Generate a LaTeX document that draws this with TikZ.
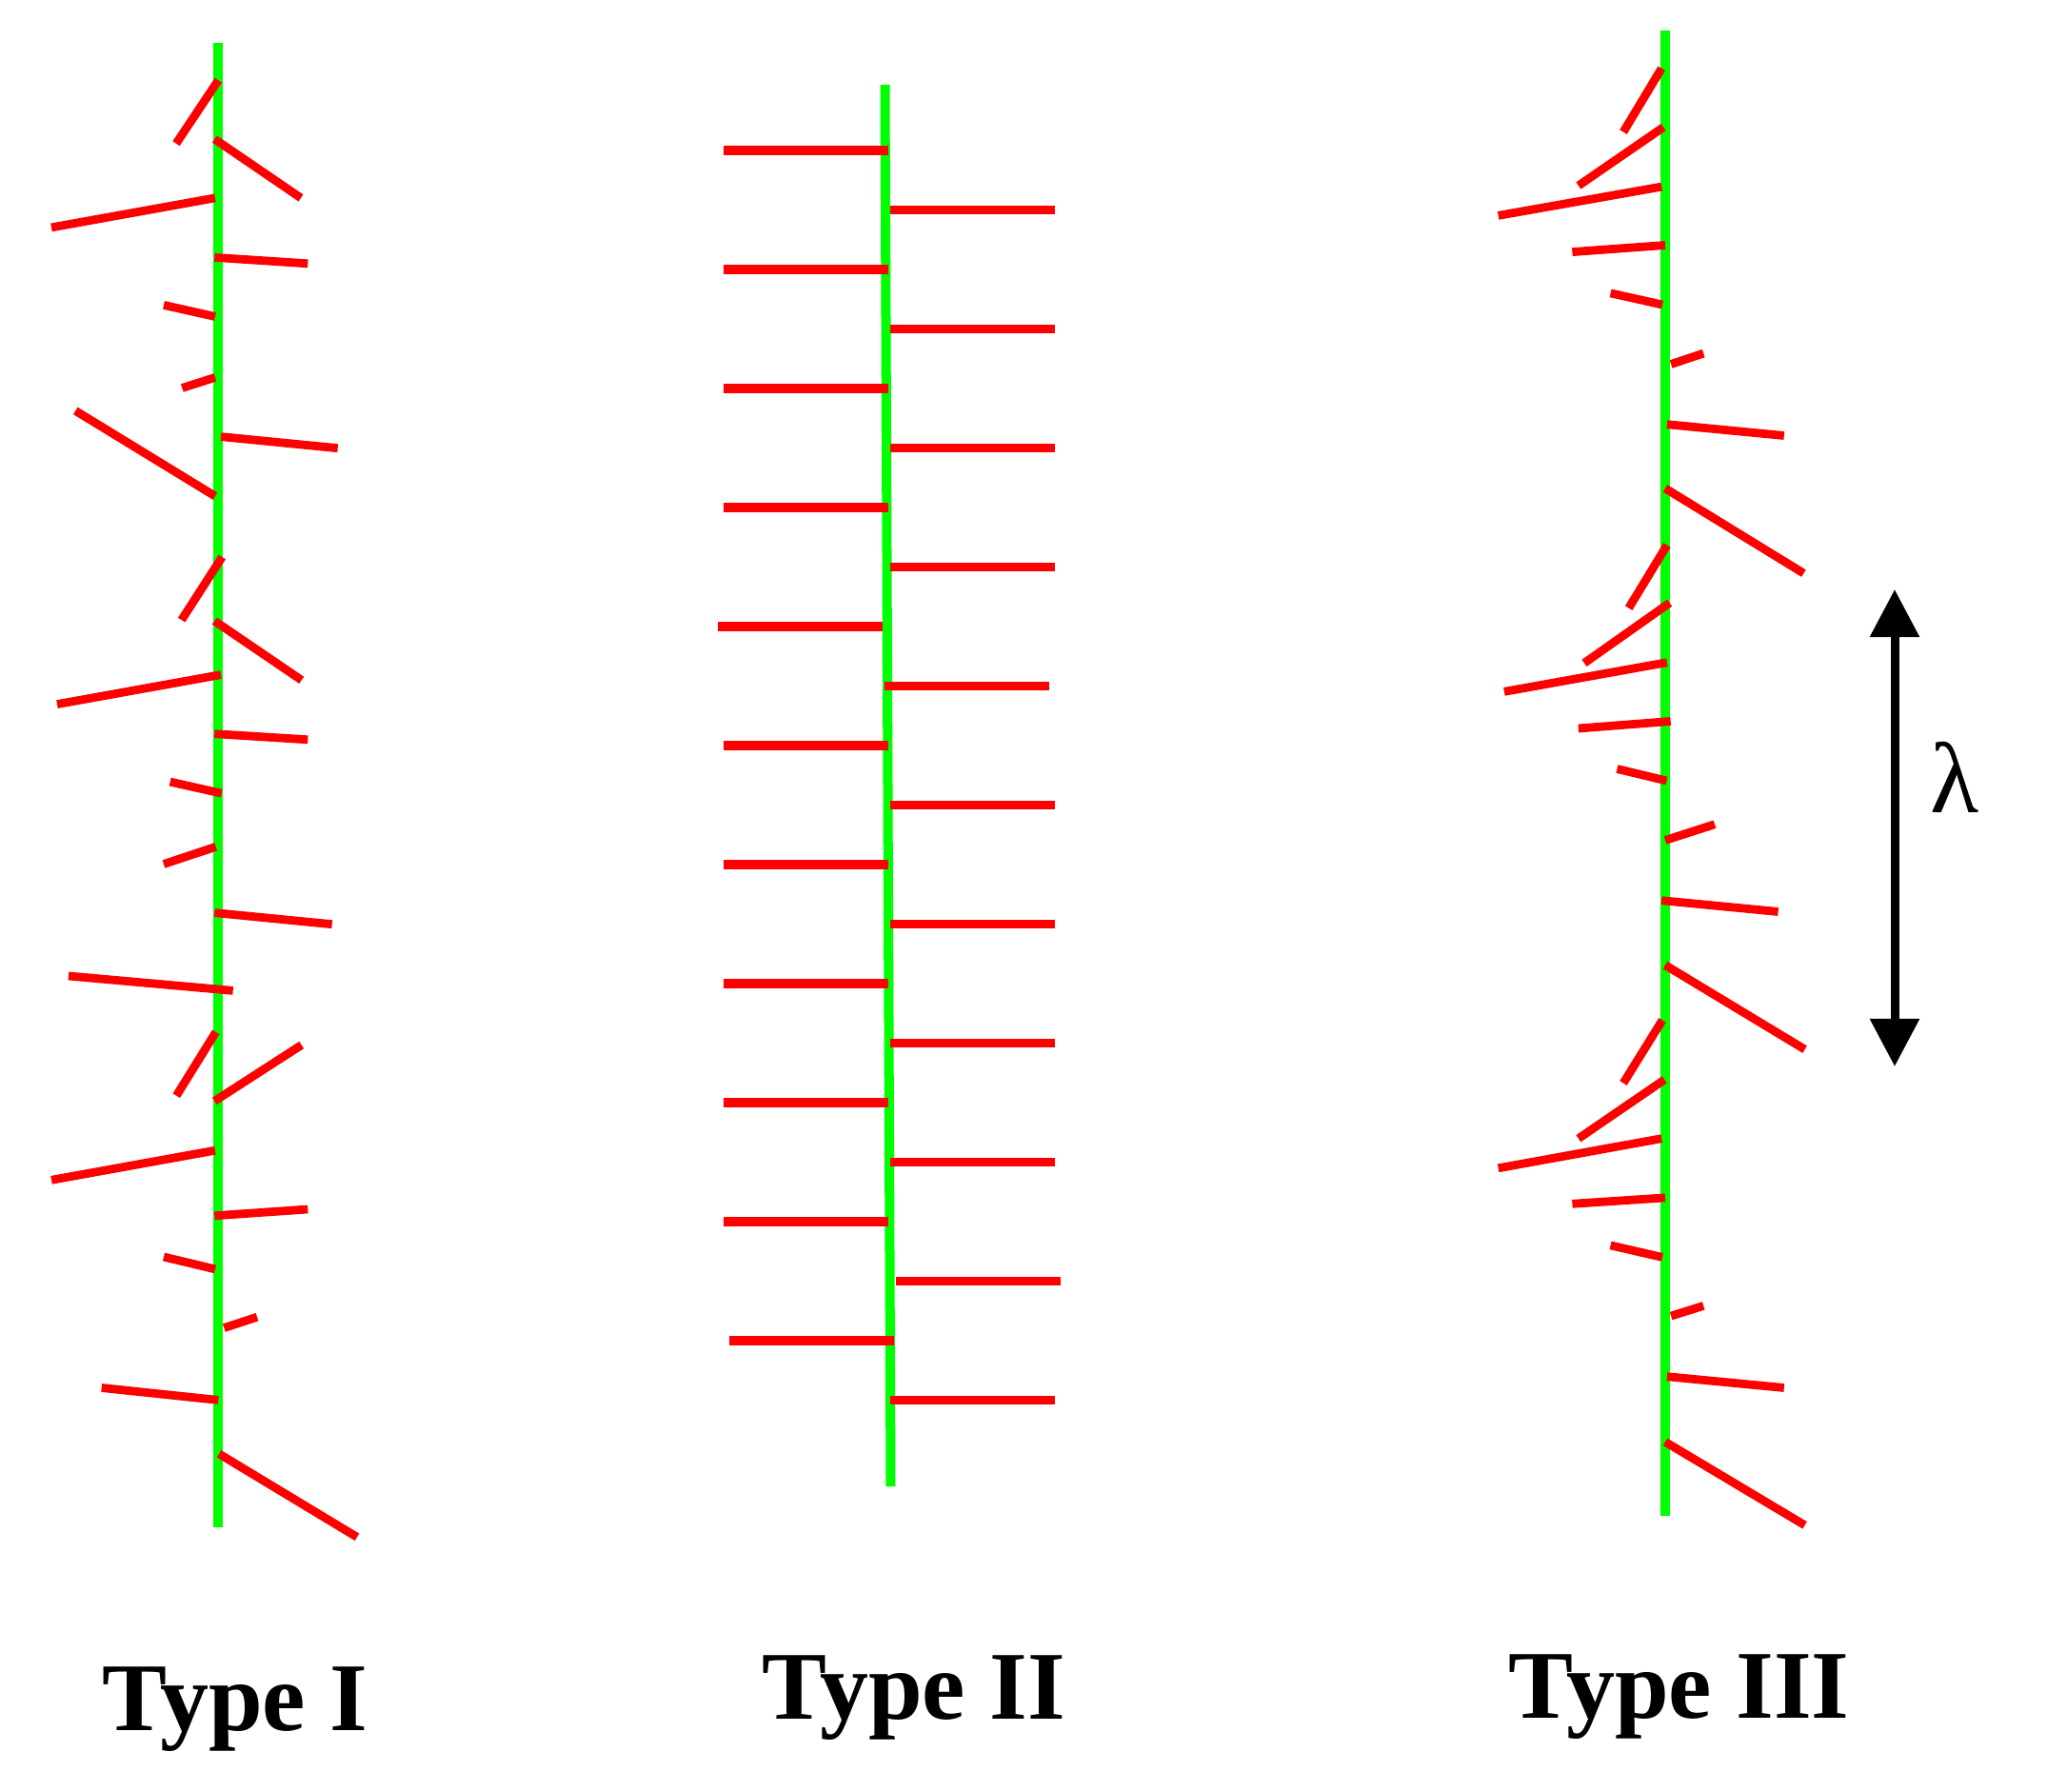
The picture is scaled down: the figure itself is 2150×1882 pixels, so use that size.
\documentclass[tikz,border=0pt]{standalone}
\usepackage{fontspec}
\setmainfont{Liberation Serif}
\usetikzlibrary{arrows.meta}
\definecolor{pureRed}{RGB}{255,0,0}
\definecolor{pureGreen}{RGB}{0,255,0}
\begin{document}
\begin{tikzpicture}[x=0.01cm,y=-0.01cm,
  spine/.style={draw=pureGreen, line width=0.1cm},
  leaf/.style={draw=pureRed, line width=0.088cm},
  leafwide/.style={draw=pureRed, line width=0.093cm},
  lamarrow/.style={draw=black, line width=0.09cm, {Triangle[length=0.5cm,width=0.5cm]}-{Triangle[length=0.5cm,width=0.5cm]}},
  typelabel/.style={anchor=base west, inner sep=0pt, font=\fontsize{29}{35}\selectfont\bfseries},
  lamlabel/.style={anchor=center, inner sep=0pt, font=\fontsize{30}{36}\selectfont}]
\useasboundingbox (0,0) rectangle (2150,1882);

% spines
\draw[spine] (229,45) -- (229,1604);
\draw[spine] (929.5,89) -- (935.5,1561);
\draw[spine] (1748.8,32) -- (1748.8,1592);

% Type I branches
\foreach \a/\b/\c/\d in {
  229.3/84.3/185/150.7, 225.3/146/316/207.9, 226/207.9/54/238.9, 225.3/270.4/323.3/276.8,
  226/332.5/172/320.4, 226/396.4/191.3/407.5, 226/521.1/79.3/431.4, 232/458.6/354.7/470.7,
  233.3/585/190.7/651.1, 225.3/652.1/316.7/714.3, 232/708.6/60/739.6, 225.3/770.7/323.3/776.8,
  232.7/833.2/178.7/821.1, 226.7/889.3/172/907.5, 225.3/958.6/348.7/970.7, 244.7/1040.4/72/1025,
  226.7/1083.9/185.3/1150.7, 316.7/1097.5/225.3/1156.4, 226/1208.2/54/1239.3, 225.3/1276.8/323.3/1270,
  226/1332.9/172/1320, 235.3/1394.6/270/1383.2, 229.3/1470.4/106.7/1457.5, 230/1526.8/375/1614.3}
  \draw[leaf] (\a,\b) -- (\c,\d);

% Type II branches
\foreach \a/\b/\y in {760/933/158, 760/933/283, 760/933/408, 760/933/533, 754/927/658,
  760/933/783, 760/933/908, 760/933/1033, 760/933/1158, 760/933/1283, 766/939/1408}
  \draw[leafwide] (\a,\y) -- (\b,\y);
\foreach \a/\b/\y in {935/1108/220.3, 935/1108/345.3, 935/1108/470.3, 935/1108/595.3,
  929/1102/720.3, 935/1108/845.7, 935/1108/970.3, 935/1108/1095.3, 935/1108/1220.3,
  941/1114/1345.7, 935/1108/1470.3}
  \draw[leafwide] (\a,\y) -- (\b,\y);

% Type III branches
\foreach \a/\b/\c/\d in {
  1745.2/71.8/1705/138.6, 1747.1/133.6/1657.9/195, 1745.2/196.1/1573.7/226.4, 1749/257.5/1651.4/264.6,
  1746/320/1691.6/307.9, 1755.1/382.5/1789.2/371.1, 1750.9/445.7/1873.8/457.5, 1749/512.9/1894.4/602.1,
  1750.9/572.5/1710.7/638.6, 1753.6/633.2/1664/696.4, 1750.9/695.7/1579.9/726.4, 1754.7/757.5/1657.9/765,
  1750.5/820/1698.5/807.5, 1749/882.5/1801/865.7, 1745.2/945.7/1867.6/957.5, 1749/1013.6/1895.6/1102.1,
  1746/1071.4/1705/1137.5, 1748.2/1133.9/1657.9/1195.7, 1745.2/1195.7/1573.7/1226.8, 1749/1257.9/1651.4/1264.3,
  1746/1320.4/1691.6/1307.9, 1755.1/1382.1/1789.2/1371.4, 1750.9/1445.7/1873.8/1457.5, 1749/1514.3/1895.6/1601.8}
  \draw[leaf] (\a,\b) -- (\c,\d);

% wavelength arrow
\coordinate (lamtop) at (1990,619);
\coordinate (lambot) at (1990,1120);
\draw[lamarrow] (lamtop) -- (lambot);
\node[lamlabel] (lam) at (2053,816) {λ};

% labels
\node[typelabel] (t1) at (107,1817) {Type I};
\node[typelabel] (t2) at (800,1805) {Type II};
\node[typelabel] (t3) at (1584,1804) {Type III};
\end{tikzpicture}
\end{document}
